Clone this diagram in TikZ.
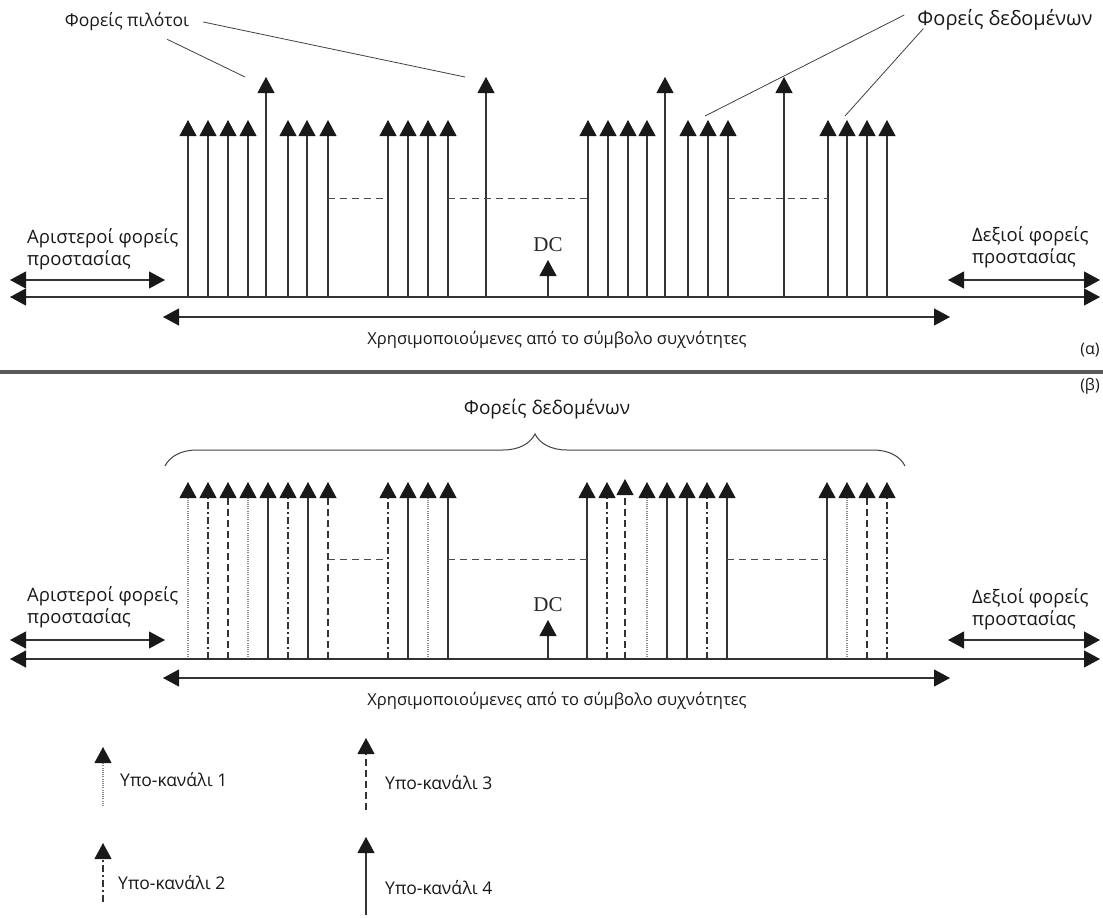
\documentclass[tikz,border=0pt]{standalone}
\usepackage{fontspec}
\setmainfont{Open Sans}
\newfontfamily\dcfont{Liberation Serif}
\usetikzlibrary{arrows.meta,decorations.pathreplacing}
\tikzset{
  head/.tip={Triangle[width=17pt,length=16pt,color=black!90]},
  carrier/.style={line width=1.1pt,draw=black!80,-head},
  subsolid/.style={carrier},
  subdot/.style={carrier,draw=black!45,dash pattern=on 1pt off 1.2pt},
  subdashdot/.style={carrier,dash pattern=on 7pt off 3pt on 2pt off 3pt},
  subdash/.style={carrier,dash pattern=on 7pt off 4pt},
  twoway/.style={line width=1.1pt,draw=black!80,head-head},
  gapline/.style={line width=1pt,draw=black!70,dash pattern=on 7pt off 5pt},
  pointer/.style={line width=0.8pt,draw=black!75},
  lbl/.style={inner sep=0pt,text=black!90,font=\fontsize{16}{22}\selectfont},
  guardlbl/.style={lbl,align=left,anchor=west,font=\fontsize{18.5}{22}\selectfont},
  keylbl/.style={lbl,anchor=west,font=\fontsize{17.5}{22}\selectfont}
}
\begin{document}
\begin{tikzpicture}[x=1pt,y=-1pt]
\useasboundingbox (0,0) rectangle (1103,918);
\node[lbl,font=\fontsize{17.5}{22}\selectfont] (pilotlbl) at (127,22) {Φορείς πιλότοι};
\node[lbl,font=\fontsize{20}{22}\selectfont] (datalbl) at (1005,20) {Φορείς δεδομένων};
\draw[pointer] ([shift={(-22,8)}]pilotlbl.south east) -- (245,77);
\draw[pointer] ([shift={(14,0)}]pilotlbl.east) -- (465,77);
\draw[pointer] ([shift={(-13,-5)}]datalbl.west) -- (705,116);
\draw[pointer] ([shift={(6,-2)}]datalbl.south west) -- (845,116);
\draw[carrier] (188,297)--(188,120);
\draw[carrier] (208,297)--(208,120);
\draw[carrier] (228,297)--(228,120);
\draw[carrier] (248,297)--(248,120);
\draw[carrier] (266,297)--(266,77);
\draw[carrier] (288,297)--(288,120);
\draw[carrier] (307,297)--(307,120);
\draw[carrier] (328,297)--(328,120);
\draw[carrier] (388,297)--(388,120);
\draw[carrier] (408,297)--(408,120);
\draw[carrier] (428,297)--(428,120);
\draw[carrier] (448,297)--(448,120);
\draw[carrier] (486,297)--(486,77);
\draw[carrier] (588,297)--(588,120);
\draw[carrier] (608,297)--(608,120);
\draw[carrier] (628,297)--(628,120);
\draw[carrier] (647,297)--(647,120);
\draw[carrier] (665,297)--(665,77);
\draw[carrier] (688,297)--(688,120);
\draw[carrier] (708,297)--(708,120);
\draw[carrier] (728,297)--(728,120);
\draw[carrier] (784,297)--(784,77);
\draw[carrier] (828,297)--(828,120);
\draw[carrier] (847,297)--(847,120);
\draw[carrier] (867,297)--(867,120);
\draw[carrier] (887,297)--(887,120);
\draw[gapline] (328,198)--(388,198);
\draw[gapline] (448,198)--(588,198);
\draw[gapline] (728,198)--(828,198);
\node[inner sep=0pt,font=\dcfont\fontsize{21}{21}\selectfont,text=black!85] (dctop) at (548,245) {DC};
\draw[carrier] (548,297)--(548,260);
\node[guardlbl] (guardLtop) at (27,249) {Αριστεροί φορείς\\προστασίας};
\node[guardlbl] (guardRtop) at (972,247) {Δεξιοί φορείς\\προστασίας};
\draw[twoway] (10,280)--(165,280);
\draw[twoway] (948,280)--(1100,280);
\draw[twoway] (10,297)--(1100,297);
\draw[twoway] (163,317)--(950,317);
\node[lbl,font=\fontsize{16.5}{22}\selectfont] (usedtop) at (557,340) {Χρησιμοποιούμενες από το σύμβολο συχνότητες};
\node[lbl] (alpha) at (1090,350) {(α)};
\draw[line width=3.5pt,draw=black!65] (0,372)--(1103,372);
\node[lbl] (beta) at (1090,386) {(β)};
\node[lbl,font=\fontsize{19}{22}\selectfont] (databot) at (547,409) {Φορείς δεδομένων};
\draw[pointer,line width=1pt,decorate,decoration={brace,amplitude=32pt,aspect=0.5}] (165,466)--(905,466);
\draw[subdot] (188,659)--(188,482);
\draw[subdashdot] (208,659)--(208,482);
\draw[subdash] (228,659)--(228,482);
\draw[subdot] (248,659)--(248,482);
\draw[subsolid] (268,659)--(268,482);
\draw[subdashdot] (288,659)--(288,482);
\draw[subsolid] (308,659)--(308,482);
\draw[subdash] (328,659)--(328,482);
\draw[subdashdot] (388,659)--(388,482);
\draw[subsolid] (408,659)--(408,482);
\draw[subdot] (428,659)--(428,482);
\draw[subsolid] (448,659)--(448,482);
\draw[subsolid] (587,659)--(587,482);
\draw[subdashdot] (607,659)--(607,482);
\draw[subdash] (625,659)--(625,479);
\draw[subdot] (647,659)--(647,482);
\draw[subsolid] (667,659)--(667,482);
\draw[subsolid] (687,659)--(687,482);
\draw[subdashdot] (707,659)--(707,482);
\draw[subsolid] (727,659)--(727,482);
\draw[subsolid] (827,659)--(827,482);
\draw[subdot] (847,659)--(847,482);
\draw[subdash] (867,659)--(867,482);
\draw[subdashdot] (887,659)--(887,482);
\draw[gapline] (328,559)--(388,559);
\draw[gapline] (448,559)--(587,559);
\draw[gapline] (727,559)--(827,559);
\node[inner sep=0pt,font=\dcfont\fontsize{21}{21}\selectfont,text=black!85] (dcbot) at (548,605) {DC};
\draw[carrier] (548,659)--(548,620);
\node[guardlbl] (guardLbot) at (27,607) {Αριστεροί φορείς\\προστασίας};
\node[guardlbl] (guardRbot) at (972,609) {Δεξιοί φορείς\\προστασίας};
\draw[twoway] (10,640)--(165,640);
\draw[twoway] (948,640)--(1100,640);
\draw[twoway] (10,659)--(1100,659);
\draw[twoway] (163,678)--(950,678);
\node[lbl,font=\fontsize{16.5}{22}\selectfont] (usedbot) at (557,701) {Χρησιμοποιούμενες από το σύμβολο συχνότητες};
\draw[subdot] (103,806)--(103,747);
\node[keylbl] (keyA) at (120,780) {Υπο-κανάλι 1};
\draw[subdashdot] (103,902)--(103,843);
\node[keylbl] (keyB) at (118,883) {Υπο-κανάλι 2};
\draw[subdash] (366,810)--(366,738);
\node[keylbl] (keyC) at (385,783) {Υπο-κανάλι 3};
\draw[subsolid] (366,915)--(366,837);
\node[keylbl] (keyD) at (385,888) {Υπο-κανάλι 4};
\end{tikzpicture}
\end{document}
